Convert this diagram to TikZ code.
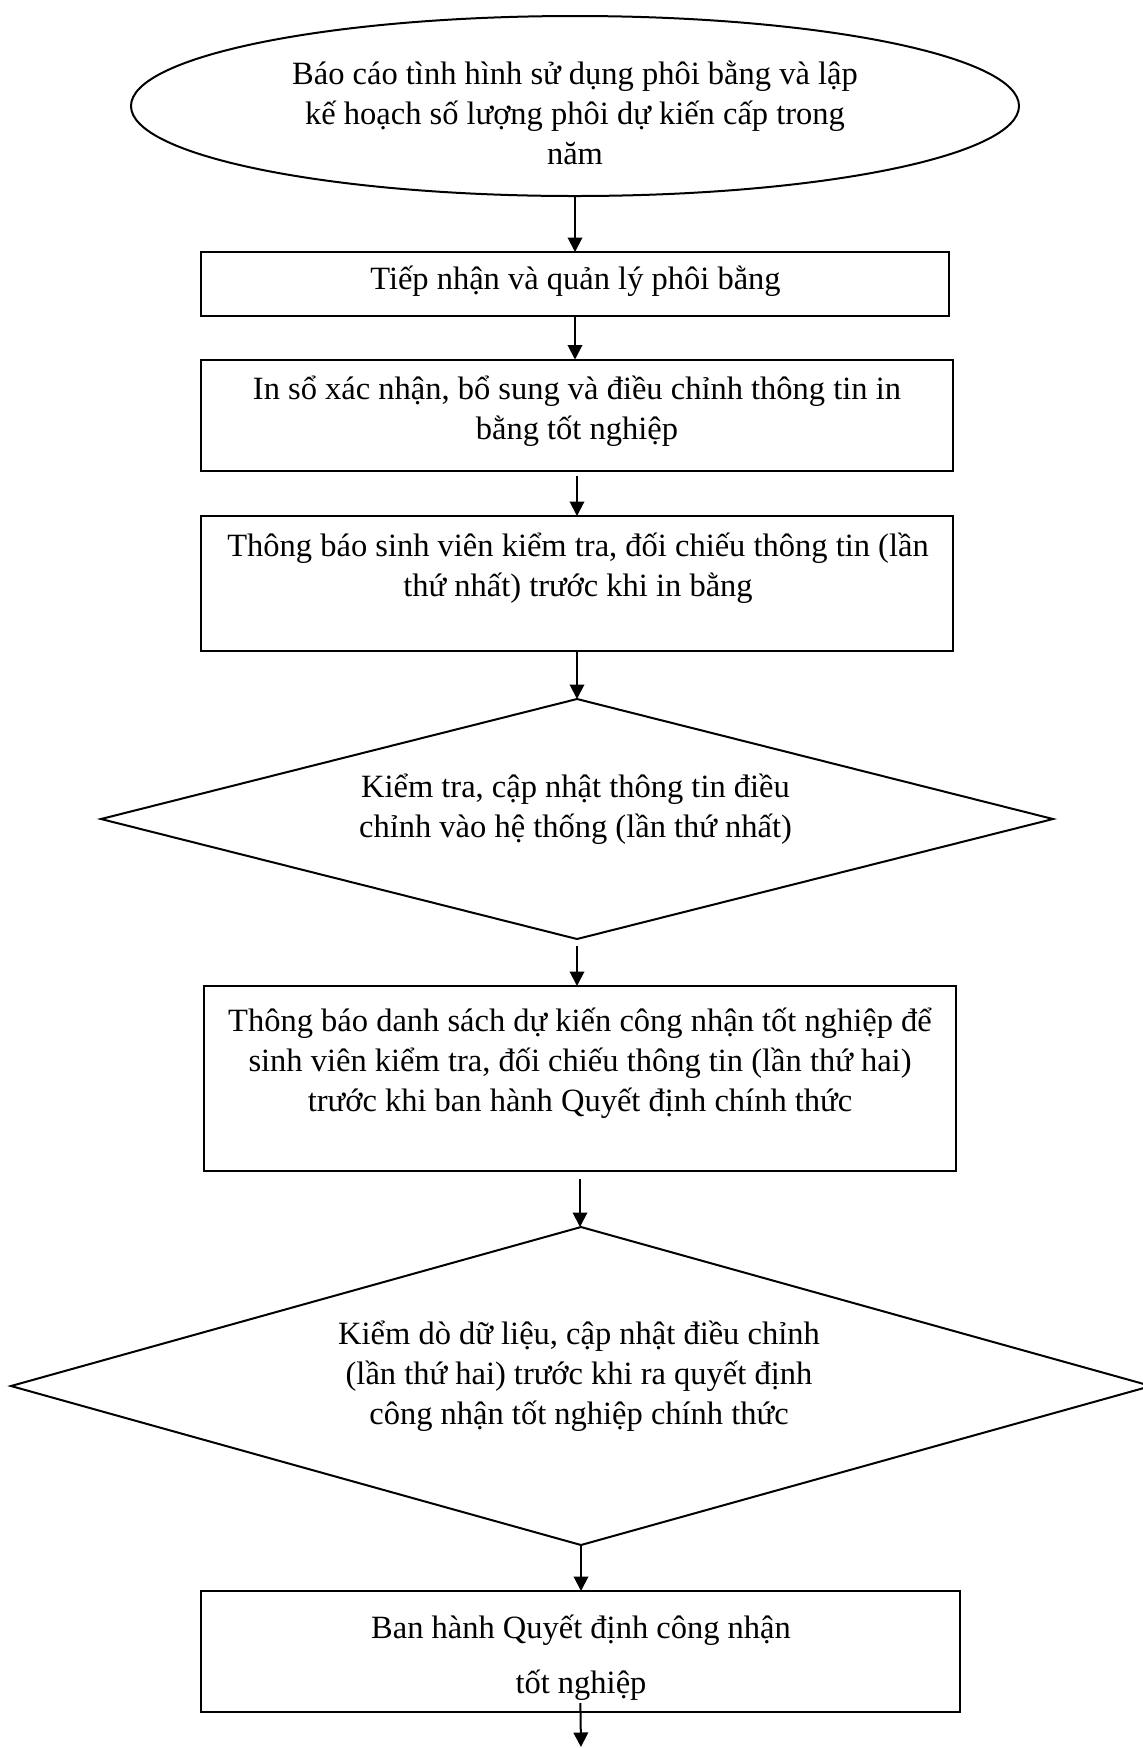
\documentclass[tikz,border=0pt]{standalone}
\usepackage{fontspec}
\setmainfont{Liberation Serif}
\usetikzlibrary{shapes.geometric, arrows.meta}

\begin{document}
\begin{tikzpicture}[x=0.4pt, y=-0.4pt,
  every node/.style={inner sep=0pt, outer sep=0pt},
  frame/.style={draw, line width=0.8pt},
  stepbox/.style={frame, rectangle},
  startoval/.style={frame, ellipse},
  check/.style={frame, diamond},
  caption/.style={align=center, font=\fontsize{13}{16}\selectfont},
  flow/.style={-{Triangle[length=5.8pt,width=5.8pt]}, line width=0.8pt}]
\useasboundingbox (0,0) rectangle (1142,1748);

% shapes
\node[startoval, minimum width=355.2pt, minimum height=72pt] (start) at (575,106) {};
\node[stepbox, minimum width=298.8pt, minimum height=25.6pt] (b1) at (575,284) {};
\node[stepbox, minimum width=300.4pt, minimum height=44.4pt] (b2) at (577,415) {};
\node[stepbox, minimum width=300.4pt, minimum height=54pt] (b3) at (577,583.5) {};
\node[check, minimum width=380.8pt, minimum height=96pt] (d1) at (577,819) {};
\node[stepbox, minimum width=300.8pt, minimum height=74pt] (b4) at (580,1078.5) {};
\node[check, minimum width=456pt, minimum height=127.2pt] (d2) at (581,1386) {};
\node[stepbox, minimum width=303.6pt, minimum height=48.4pt] (b5) at (580.5,1651.5) {};

% texts
\node[caption] (t0) at (575,113) {Báo cáo tình hình sử dụng phôi bằng và lập\\kế hoạch số lượng phôi dự kiến cấp trong\\năm};
\node[caption] (t1) at (575.5,281) {Tiếp nhận và quản lý phôi bằng};
\node[caption] (t2) at (577,411.5) {In sổ xác nhận, bổ sung và điều chỉnh thông tin in\\bằng tốt nghiệp};
\node[caption] (t3) at (578,568) {Thông báo sinh viên kiểm tra, đối chiếu thông tin (lần\\thứ nhất) trước khi in bằng};
\node[caption] (t4) at (575.5,809.6) {Kiểm tra, cập nhật thông tin điều\\chỉnh vào hệ thống (lần thứ nhất)};
\node[caption] (t5) at (580,1062.8) {Thông báo danh sách dự kiến công nhận tốt nghiệp để\\sinh viên kiểm tra, đối chiếu thông tin (lần thứ hai)\\trước khi ban hành Quyết định chính thức};
\node[caption] (t6) at (579,1376) {Kiểm dò dữ liệu, cập nhật điều chỉnh\\(lần thứ hai) trước khi ra quyết định\\công nhận tốt nghiệp chính thức};
\node[caption] (t7) at (581,1657.5) {Ban hành Quyết định công nhận\\[6pt]tốt nghiệp};

% connectors
\coordinate (end) at (581,1747);
\draw[flow] (start.south) -- (start.south |- b1.north);
\draw[flow] (b1.south) -- (b1.south |- b2.north);
\draw[flow, shorten <=2pt] (b2.south) -- (b2.south |- b3.north);
\draw[flow] (b3.south) -- (b3.south |- d1.north);
\draw[flow, shorten <=2.8pt] (d1.south) -- (d1.south |- b4.north);
\draw[flow, shorten <=3.2pt] (b4.south) -- (b4.south |- d2.north);
\draw[flow] (d2.south) -- (d2.south |- b5.north);
\draw[flow, shorten <=-3.6pt] (b5.south) -- (end);
\end{tikzpicture}
\end{document}
